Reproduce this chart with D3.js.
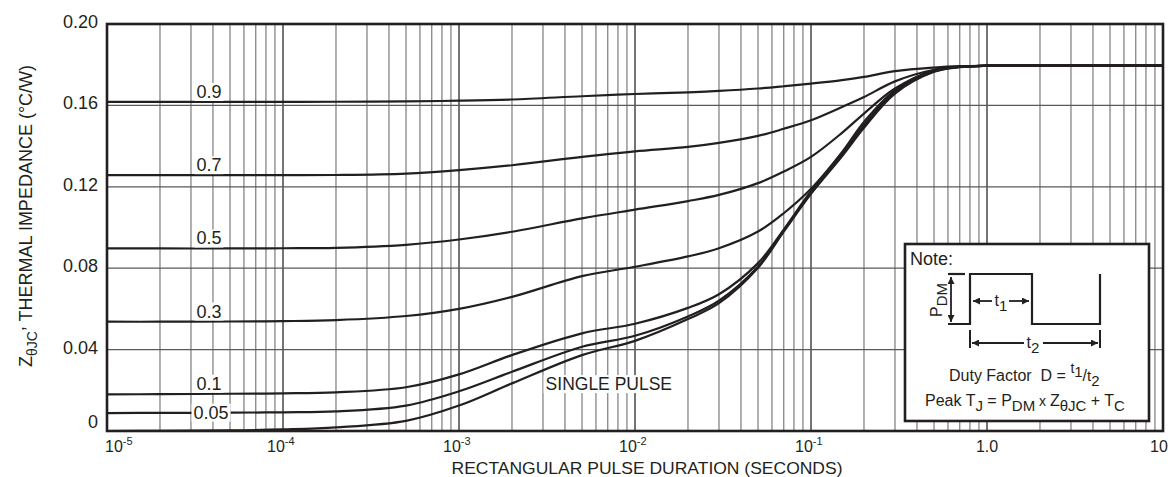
<!DOCTYPE html>
<html>
<head>
<meta charset="utf-8">
<script src="https://cdn.jsdelivr.net/npm/d3@7/dist/d3.min.js"></script>
<style>
  html, body { margin: 0; padding: 0; background: #fff; }
  svg { display: block; font-family: "Liberation Sans", Arial, Helvetica, sans-serif; }
  .pre { white-space: pre; }
</style>
</head>
<body>
<svg id="chart" width="1172" height="477"></svg>
<script>
// ---------------- DATA ----------------
const durations = [1e-5, 2e-5, 5e-5, 1e-4, 2e-4, 5e-4, 1e-3, 2e-3, 5e-3, 1e-2, 2e-2, 3e-2, 5e-2, 7e-2, 1e-1, 1.5e-1, 2e-1, 3e-1, 5e-1, 7e-1, 1, 2, 5, 10];

const z09 = [0.1617, 0.1617, 0.1617, 0.1617, 0.1618, 0.1620, 0.1623, 0.1629, 0.1645, 0.1656, 0.1664, 0.1671, 0.1683, 0.1694, 0.1707, 0.1724, 0.1740, 0.1768, 0.1786, 0.1793, 0.1795, 0.1795, 0.1795, 0.1795];
const z07 = [0.1257, 0.1257, 0.1257, 0.1257, 0.1258, 0.1265, 0.1282, 0.1306, 0.1347, 0.1374, 0.1396, 0.1416, 0.1450, 0.1485, 0.1527, 0.1592, 0.1641, 0.1718, 0.1775, 0.1790, 0.1795, 0.1795, 0.1795, 0.1795];
const z05 = [0.0897, 0.0897, 0.0897, 0.0898, 0.0900, 0.0915, 0.0941, 0.0979, 0.1045, 0.1088, 0.1130, 0.1160, 0.1218, 0.1275, 0.1347, 0.1465, 0.1560, 0.1683, 0.1773, 0.1790, 0.1795, 0.1795, 0.1795, 0.1795];
const z03 = [0.0537, 0.0537, 0.0538, 0.0540, 0.0545, 0.0565, 0.0600, 0.0659, 0.0761, 0.0807, 0.0858, 0.0898, 0.0980, 0.1070, 0.1190, 0.1370, 0.1519, 0.1674, 0.1773, 0.1790, 0.1795, 0.1795, 0.1795, 0.1795];
const z01 = [0.0180, 0.0181, 0.0183, 0.0185, 0.0190, 0.0215, 0.0278, 0.0373, 0.0480, 0.0527, 0.0605, 0.0672, 0.0825, 0.0990, 0.1178, 0.1360, 0.1505, 0.1668, 0.1770, 0.1790, 0.1795, 0.1795, 0.1795, 0.1795];
const z005 = [0.0088, 0.0089, 0.0090, 0.0092, 0.0096, 0.0125, 0.0195, 0.0291, 0.0414, 0.0468, 0.0563, 0.0640, 0.0808, 0.0985, 0.1170, 0.1355, 0.1495, 0.1662, 0.1767, 0.1789, 0.1795, 0.1795, 0.1795, 0.1795];
const zSingle = [0.0000, 0.0001, 0.0003, 0.0008, 0.0018, 0.0050, 0.0125, 0.0234, 0.0373, 0.0443, 0.0550, 0.0628, 0.0802, 0.0980, 0.1165, 0.1350, 0.1490, 0.1658, 0.1765, 0.1788, 0.1795, 0.1795, 0.1795, 0.1795];

const dutyLabels = ["0.9", "0.7", "0.5", "0.3", "0.1", "0.05"];
const seriesValues = [z09, z07, z05, z03, z01, z005, zSingle];
const singlePulseLabel = "SINGLE PULSE";

const yTickValues = [0, 0.04, 0.08, 0.12, 0.16, 0.20];
const yTickLabels = ["0", "0.04", "0.08", "0.12", "0.16", "0.20"];
const xTickValues = [1e-5, 1e-4, 1e-3, 1e-2, 1e-1, 1, 10];
const xTickBases = ["10", "10", "10", "10", "10", "1.0", "10"];
const xTickExps = ["-5", "-4", "-3", "-2", "-1", "", ""];
const xTitle = "RECTANGULAR PULSE DURATION (SECONDS)";

// ---------------- LAYOUT ----------------
const svg = d3.select("#chart");
const L = 107, R = 1163, T = 24, B = 431;
const x = d3.scaleLog().domain([1e-5, 10]).range([L, R]);
const y = d3.scaleLinear().domain([0, 0.2]).range([B, T]);
const ink = "#231f20";

// grid - vertical (log)
const gridG = svg.append("g");
const minorVals = [];
for (let k = -5; k <= 0; k++) for (let m = 2; m <= 9; m++) minorVals.push(m * Math.pow(10, k));
gridG.selectAll("line.minor").data(minorVals).join("line")
  .attr("x1", d => x(d)).attr("x2", d => x(d)).attr("y1", T).attr("y2", B)
  .attr("stroke", "#858585").attr("stroke-width", 1.3);
gridG.selectAll("line.major").data(xTickValues).join("line")
  .attr("x1", d => x(d)).attr("x2", d => x(d)).attr("y1", T).attr("y2", B)
  .attr("stroke", "#2a2a2a").attr("stroke-width", 1.3);
gridG.selectAll("line.h").data(yTickValues.filter(v => v > 0 && v < 0.2)).join("line")
  .attr("x1", L).attr("x2", R).attr("y1", d => y(d)).attr("y2", d => y(d))
  .attr("stroke", "#5a5a5a").attr("stroke-width", 1.3);

// curves
const line = d3.line().x((d, i) => x(durations[i])).y(d => y(d)).curve(d3.curveCatmullRom.alpha(0.5));
svg.append("g").selectAll("path").data(seriesValues).join("path")
  .attr("d", d => line(d)).attr("fill", "none").attr("stroke", ink).attr("stroke-width", 2.2)
  .attr("stroke-linejoin", "round");

// frame
svg.append("rect").attr("x", L).attr("y", T).attr("width", R - L).attr("height", B - T)
  .attr("fill", "none").attr("stroke", ink).attr("stroke-width", 2.6);

// curve labels with white background
function labelWithBg(txt, cx, baseY, size) {
  const g = svg.append("g");
  const t = g.append("text").attr("x", cx).attr("y", baseY).attr("text-anchor", "middle")
    .attr("font-size", size).attr("fill", ink).text(txt);
  const bb = t.node().getBBox();
  g.insert("rect", "text").attr("x", bb.x - 2).attr("y", bb.y + 1).attr("width", bb.width + 4)
    .attr("height", bb.height - 2).attr("fill", "#fff");
  return g;
}
const labelT = 3.8e-5;
dutyLabels.forEach((lab, i) => {
  const v = seriesValues[i][2];
  if (lab === "0.05") labelWithBg(lab, x(labelT) + 2, y(v) + 6, 18);
  else labelWithBg(lab, x(labelT), y(v) - 4, 18);
});
labelWithBg(singlePulseLabel, x(7.1e-3), y(0.0201), 17.5);

// y tick labels
svg.append("g").selectAll("text").data(yTickValues).join("text")
  .attr("x", 98).attr("y", d => d === 0 ? y(d) - 3 : y(d) + 4)
  .attr("text-anchor", "end").attr("font-size", 18).attr("fill", ink)
  .text((d, i) => yTickLabels[i]);

// x tick labels
const xl = svg.append("g").selectAll("text").data(xTickValues).join("text")
  .attr("x", (d, i) => i === 0 ? x(d) - 2 : (xTickExps[i] ? x(d) - 16 : x(d) - (i === 6 ? 4 : 0)))
  .attr("y", 452)
  .attr("text-anchor", (d, i) => (i === 0 || xTickExps[i]) ? "start" : "middle")
  .attr("font-size", 16).attr("fill", ink);
xl.append("tspan").text((d, i) => xTickBases[i]);
xl.append("tspan").attr("dy", -7).attr("font-size", 11).text((d, i) => xTickExps[i]);

// x title
svg.append("text").attr("x", 647).attr("y", 474).attr("text-anchor", "middle")
  .attr("font-size", 17).attr("fill", ink).attr("textLength", 391).attr("lengthAdjust", "spacingAndGlyphs")
  .text(xTitle);

// y title
const yt = svg.append("text").attr("transform", "translate(32,216) rotate(-90)")
  .attr("text-anchor", "middle").attr("font-size", 18).attr("fill", ink);
yt.append("tspan").text("Z");
yt.append("tspan").attr("dy", 5).attr("font-size", 14).text("θJC");
yt.append("tspan").attr("dy", -13).text(",");
yt.append("tspan").attr("dy", 8).text(" THERMAL IMPEDANCE (°C/W)");

// ---------------- NOTE BOX ----------------
const nb = svg.append("g");
nb.append("rect").attr("x", 905).attr("y", 244).attr("width", 244).attr("height", 177)
  .attr("fill", "#fff").attr("stroke", ink).attr("stroke-width", 2.6);
nb.append("text").attr("x", 910).attr("y", 265).attr("font-size", 18).attr("fill", ink).text("Note:");

const defs = svg.append("defs");
defs.append("marker").attr("id", "ah").attr("viewBox", "0 0 10 10").attr("refX", 10).attr("refY", 5)
  .attr("markerWidth", 9).attr("markerHeight", 7).attr("markerUnits", "userSpaceOnUse").attr("orient", "auto-start-reverse")
  .append("path").attr("d", "M0,0 L10,5 L0,10 Z").attr("fill", ink);

const pulse = [[948, 324], [970, 324], [970, 274], [1032, 274], [1032, 324], [1100, 324], [1100, 274]];
nb.append("path").attr("d", d3.line()(pulse)).attr("fill", "none").attr("stroke", ink).attr("stroke-width", 2.2);
nb.append("line").attr("x1", 948).attr("x2", 965).attr("y1", 274).attr("y2", 274).attr("stroke", ink).attr("stroke-width", 2.2);
// PDM arrow
nb.append("line").attr("x1", 951).attr("x2", 951).attr("y1", 277).attr("y2", 322)
  .attr("stroke", ink).attr("stroke-width", 1.8).attr("marker-start", "url(#ah)").attr("marker-end", "url(#ah)");
const pdm = nb.append("text").attr("transform", "translate(942,300) rotate(-90)").attr("text-anchor", "middle")
  .attr("font-size", 16).attr("fill", ink);
pdm.append("tspan").text("P");
pdm.append("tspan").attr("dy", 5).attr("font-size", 15).text("DM");
// t1 arrow
nb.append("line").attr("x1", 992).attr("x2", 973).attr("y1", 301).attr("y2", 301)
  .attr("stroke", ink).attr("stroke-width", 1.8).attr("marker-end", "url(#ah)");
nb.append("line").attr("x1", 1009).attr("x2", 1029).attr("y1", 301).attr("y2", 301)
  .attr("stroke", ink).attr("stroke-width", 1.8).attr("marker-end", "url(#ah)");
const t1 = nb.append("text").attr("x", 1001).attr("y", 306).attr("text-anchor", "middle").attr("font-size", 16).attr("fill", ink);
t1.append("tspan").text("t");
t1.append("tspan").attr("dy", 5).attr("font-size", 15).text("1");
// t2
nb.append("line").attr("x1", 970).attr("x2", 970).attr("y1", 330).attr("y2", 348).attr("stroke", ink).attr("stroke-width", 2);
nb.append("line").attr("x1", 1100).attr("x2", 1100).attr("y1", 330).attr("y2", 348).attr("stroke", ink).attr("stroke-width", 2);
nb.append("line").attr("x1", 1024).attr("x2", 972).attr("y1", 343).attr("y2", 343)
  .attr("stroke", ink).attr("stroke-width", 1.8).attr("marker-end", "url(#ah)");
nb.append("line").attr("x1", 1043).attr("x2", 1098).attr("y1", 343).attr("y2", 343)
  .attr("stroke", ink).attr("stroke-width", 1.8).attr("marker-end", "url(#ah)");
const t2 = nb.append("text").attr("x", 1033).attr("y", 348).attr("text-anchor", "middle").attr("font-size", 16).attr("fill", ink);
t2.append("tspan").text("t");
t2.append("tspan").attr("dy", 5).attr("font-size", 15).text("2");

// formulas
const f1 = nb.append("text").attr("class", "pre").attr("x", 949).attr("y", 381).attr("font-size", 16).attr("fill", ink);
f1.append("tspan").text("Duty Factor  D = ");
f1.append("tspan").attr("dy", -8).attr("font-size", 14).text("t");
f1.append("tspan").attr("dy", 4).attr("font-size", 15).text("1");
f1.append("tspan").attr("dy", 4).text("/");
f1.append("tspan").attr("dy", 0).attr("font-size", 15).text("t");
f1.append("tspan").attr("dy", 5).attr("font-size", 15).text("2");

const f2 = nb.append("text").attr("class", "pre").attr("x", 925).attr("y", 406).attr("font-size", 16).attr("fill", ink);
f2.append("tspan").text("Peak T");
f2.append("tspan").attr("dy", 5).attr("font-size", 15).text("J");
f2.append("tspan").attr("dy", -5).text(" = P");
f2.append("tspan").attr("dy", 5).attr("font-size", 15).text("DM");
f2.append("tspan").attr("dy", -5).attr("font-size", 14).text(" x ");
f2.append("tspan").text("Z");
f2.append("tspan").attr("dy", 5).attr("font-size", 15).text("θJC");
f2.append("tspan").attr("dy", -5).text(" + T");
f2.append("tspan").attr("dy", 5).attr("font-size", 15).text("C");
</script>
</body>
</html>
